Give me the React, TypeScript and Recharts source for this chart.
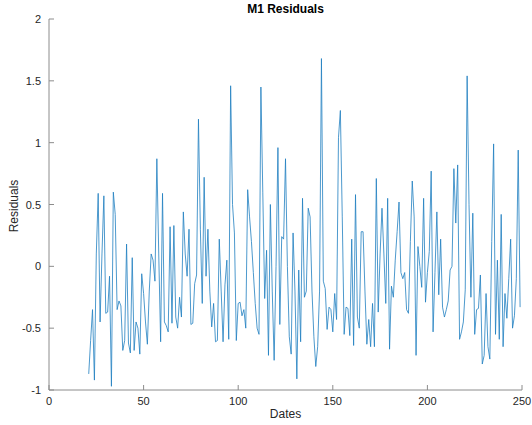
import React from "react";
import { LineChart, Line, XAxis, YAxis } from "recharts";

const dates: number[] = [];
for (let d = 21; d <= 249; d++) dates.push(d);

const residuals: number[] = [
  -0.87, -0.6, -0.35, -0.92, 0.1, 0.59, -0.45, 0.1, 0.57, -0.38,
  -0.37, -0.08, -0.97, 0.6, 0.42, -0.35, -0.28, -0.32, -0.68, -0.6,
  0.18, -0.62, -0.7, 0.07, -0.68, -0.45, -0.5, -0.71, -0.06, -0.22,
  -0.45, -0.63, -0.2, 0.1, 0.05, -0.12, 0.87, 0.1, -0.61, 0.59,
  -0.45, -0.48, -0.53, 0.32, -0.46, 0.33, -0.41, -0.5, -0.25, -0.41,
  0.44, 0.1, -0.08, 0.3, -0.47, -0.46, -0.14, -0.07, 1.19, 0.3,
  -0.3, 0.72, -0.08, 0.3, -0.2, -0.49, -0.3, -0.61, -0.6, 0.22,
  -0.2, -0.61, -0.15, 0.05, -0.59, 1.46, 0.5, 0.27, -0.6, -0.3,
  -0.29, -0.4, -0.35, -0.5, 0.62, 0.4, 0.2, -0.05, -0.3, -0.5,
  -0.55, 1.45, 0.6, -0.26, 0.13, -0.72, 0.5, -0.2, -0.76, 0.0,
  0.96, -0.47, 0.24, 0.22, 0.87, 0.0, -0.57, -0.71, 0.27, -0.2,
  -0.91, -0.03, -0.61, 0.55, -0.25, -0.2, 0.47, 0.4, -0.2, -0.57,
  -0.81, -0.65, -0.2, 1.68, -0.12, -0.18, -0.51, -0.33, -0.35, -0.53,
  -0.22, -0.43, 1.04, 1.26, 0.4, -0.55, -0.33, -0.34, -0.56, 0.22,
  -0.64, 0.58, -0.41, -0.5, 0.28, 0.28, -0.2, -0.63, -0.43, -0.65,
  -0.3, -0.65, 0.71, -0.37, 0.1, 0.47, 0.1, -0.3, 0.55, -0.67,
  -0.16, -0.25, 0.05, 0.28, 0.52, -0.05, -0.1, -0.05, -0.35, -0.38,
  0.2, 0.69, 0.4, -0.72, 0.16, 0.0, -0.17, 0.55, -0.29, -0.05,
  0.12, 0.77, -0.53, -0.05, 0.44, -0.23, 0.22, -0.33, -0.41, -0.35,
  -0.28, -0.03, 0.0, 0.79, 0.35, 0.82, -0.59, -0.53, -0.45, -0.19,
  1.54, 0.5, -0.25, 0.43, -0.55, -0.35, -0.34, -0.07, -0.79, -0.72,
  -0.22, -0.65, -0.75, 0.2, 0.99, -0.55, 0.05, -0.59, 0.42, -0.65,
  -0.22, -0.42, -0.1, 0.22, -0.5, -0.4, -0.1, 0.94, -0.33,
];

const xTicks: number[] = [0, 50, 100, 150, 200, 250];
const yTicks: number[] = [-1, -0.5, 0, 0.5, 1, 1.5, 2];

const data = dates.map((d, i) => ({ date: d, res: residuals[i] }));

const FONT = '"Liberation Sans", Arial, Helvetica, sans-serif';
const AXIS = "#8c8c8c";
const TXT = "#262626";

const BottomTick = (p: any) => (
  <g>
    <line x1={p.x} y1={p.y} x2={p.x} y2={p.y - 5} stroke={AXIS} strokeWidth={1} />
    <text x={p.x} y={p.y + 15} textAnchor="middle" fontSize={11} fill={TXT} fontFamily={FONT}>
      {p.payload.value}
    </text>
  </g>
);
const TopTick = (p: any) => (
  <line x1={p.x} y1={p.y} x2={p.x} y2={p.y + 5} stroke={AXIS} strokeWidth={1} />
);
const LeftTick = (p: any) => (
  <g>
    <line x1={p.x} y1={p.y} x2={p.x + 5} y2={p.y} stroke={AXIS} strokeWidth={1} />
    <text x={p.x - 8} y={p.y + 4} textAnchor="end" fontSize={11} fill={TXT} fontFamily={FONT}>
      {p.payload.value}
    </text>
  </g>
);
const RightTick = (p: any) => (
  <line x1={p.x} y1={p.y} x2={p.x - 5} y2={p.y} stroke={AXIS} strokeWidth={1} />
);

export default function App() {
  return (
    <div style={{ position: "absolute", left: 0, top: 0, width: 532, height: 425, background: "#fff" }}>
      <LineChart
        width={532}
        height={425}
        data={data}
        margin={{ top: 19, right: 10, bottom: 0, left: 0 }}
      >
        <XAxis
          xAxisId="b"
          dataKey="date"
          type="number"
          domain={[0, 250]}
          ticks={xTicks}
          allowDataOverflow
          height={35}
          tickSize={0}
          tickMargin={0}
          tickLine={false}
          axisLine={{ stroke: AXIS }}
          tick={<BottomTick />}
          interval={0}
        />
        <XAxis
          xAxisId="t"
          dataKey="date"
          type="number"
          orientation="top"
          domain={[0, 250]}
          ticks={xTicks}
          allowDataOverflow
          height={0}
          tickSize={0}
          tickMargin={0}
          tickLine={false}
          axisLine={{ stroke: AXIS }}
          tick={<TopTick />}
          interval={0}
        />
        <YAxis
          yAxisId="l"
          type="number"
          domain={[-1, 2]}
          ticks={yTicks}
          allowDataOverflow
          width={49}
          tickSize={0}
          tickMargin={0}
          tickLine={false}
          axisLine={{ stroke: AXIS }}
          tick={<LeftTick />}
          interval={0}
        />
        <YAxis
          yAxisId="r"
          orientation="right"
          type="number"
          domain={[-1, 2]}
          ticks={yTicks}
          allowDataOverflow
          width={0}
          tickSize={0}
          tickMargin={0}
          tickLine={false}
          axisLine={{ stroke: AXIS }}
          tick={<RightTick />}
          interval={0}
        />
        <Line
          xAxisId="b"
          yAxisId="l"
          type="linear"
          dataKey="res"
          stroke="#1f7fc0"
          strokeWidth={0.8}
          dot={false}
          isAnimationActive={false}
        />
      </LineChart>
      <svg
        width={532}
        height={425}
        style={{ position: "absolute", left: 0, top: 0, pointerEvents: "none" }}
      >
        <text x={285.5} y={13} textAnchor="middle" fontSize={12} fontWeight="bold" fill="#000" fontFamily={FONT}>
          M1 Residuals
        </text>
        <text x={285.5} y={418} textAnchor="middle" fontSize={12} fill={TXT} fontFamily={FONT}>
          Dates
        </text>
        <text
          x={0}
          y={0}
          transform="translate(18 206) rotate(-90)"
          textAnchor="middle"
          fontSize={12}
          fill={TXT}
          fontFamily={FONT}
        >
          Residuals
        </text>
      </svg>
    </div>
  );
}
